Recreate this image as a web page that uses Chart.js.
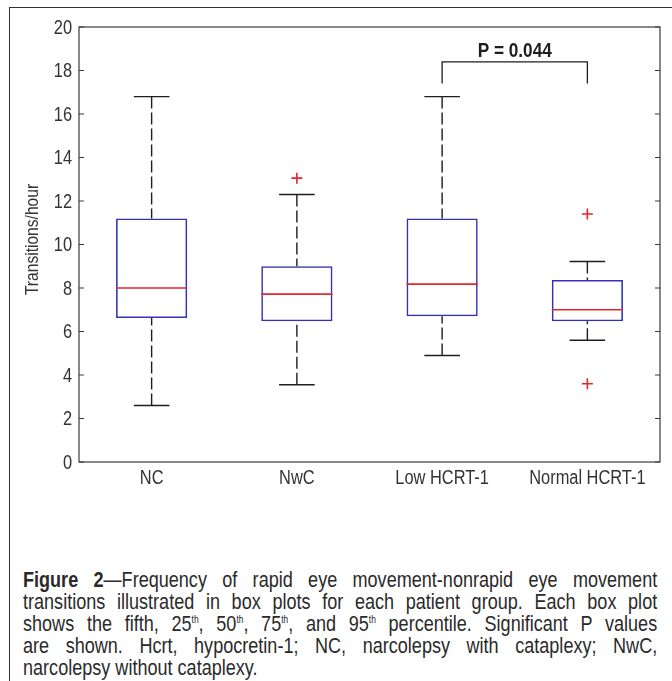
<!DOCTYPE html>
<html>
<head>
<meta charset="utf-8">
<script src="https://cdn.jsdelivr.net/npm/chart.js@4.4.1/dist/chart.umd.min.js"></script>
<style>
  html, body { margin: 0; padding: 0; background: #fff; }
  body { width: 672px; height: 681px; position: relative; overflow: hidden; }
  #frame { position: absolute; left: 9px; top: 7px; width: 700px; height: 700px;
           border-left: 1.5px solid #333; border-top: 1.5px solid #333; }
  #wrap { position: absolute; left: 0; top: 0; width: 672px; height: 540px; }
  #caption { position: absolute; left: 23px; top: 569px; width: 755px;
             transform: scaleX(0.84); transform-origin: 0 0;
             font-family: "Liberation Sans", Arial, sans-serif; font-size: 21.5px;
             line-height: 22px; color: #2a2a2a; }
  #caption .ln { text-align: justify; text-align-last: justify; white-space: nowrap; }
  #caption .ln.last { text-align-last: left; }
  #caption sup { font-size: 10px; vertical-align: 8px; line-height: 0; }
</style>
</head>
<body>
<div id="frame"></div>
<div id="wrap"><canvas id="c" width="672" height="540"></canvas></div>
<div id="caption">
  <div class="ln"><b>Figure 2</b>—Frequency of rapid eye movement-nonrapid eye movement</div>
  <div class="ln">transitions illustrated in box plots for each patient group. Each box plot</div>
  <div class="ln">shows the fifth, 25<sup>th</sup>, 50<sup>th</sup>, 75<sup>th</sup>, and 95<sup>th</sup> percentile. Significant P values</div>
  <div class="ln">are shown. Hcrt, hypocretin-1; NC, narcolepsy with cataplexy; NwC,</div>
  <div class="ln last">narcolepsy without cataplexy.</div>
</div>
<script>
// ---- data ----
const categories   = ["NC", "NwC", "Low HCRT-1", "Normal HCRT-1"];
const whiskerLow   = [2.6, 3.55, 4.9, 5.6];
const q1           = [6.62, 6.47, 6.7, 6.47];
const median       = [8.0, 7.72, 8.18, 7.0];
const q3           = [11.2, 9.0, 11.2, 8.37];
const whiskerHigh  = [16.8, 12.3, 16.8, 9.22];
const outlierGroup = ["NwC", "Normal HCRT-1", "Normal HCRT-1"];
const outlierValue = [13.05, 11.4, 3.6];
const yTicks       = [0, 2, 4, 6, 8, 10, 12, 14, 16, 18, 20];
const yTitle       = "Transitions/hour";
const pPair        = ["Low HCRT-1", "Normal HCRT-1"];
const pBarValue    = 18.4;
const pLegEnd      = 17.4;
const pLabel       = "P = 0.044";

const FONT = "'Liberation Sans', Arial, sans-serif";
const NARROW = 0.82;
const AXIS = "#3a3a3a";
const BOX = "#3232b4";
const RED = "#e3262c";

function narrowText(ctx, text, x, y, rot) {
  ctx.save();
  ctx.translate(x, y);
  if (rot) ctx.rotate(rot);
  ctx.scale(NARROW, 1);
  ctx.fillText(text, 0, 0);
  ctx.restore();
}

const boxPlugin = {
  id: 'boxExtras',
  afterDatasetsDraw(chart) {
    const ctx = chart.ctx;
    const xs = chart.scales.x, ys = chart.scales.y;
    const a = chart.chartArea;
    const meta = chart.getDatasetMeta(0);
    ctx.save();
    categories.forEach((c, i) => {
      const cx = xs.getPixelForValue(i);
      const bw = meta.data[i].width;
      const cap = bw / 4;
      const yHi = ys.getPixelForValue(whiskerHigh[i]);
      const yQ3 = ys.getPixelForValue(q3[i]);
      const yQ1 = ys.getPixelForValue(q1[i]);
      const yLo = ys.getPixelForValue(whiskerLow[i]);
      ctx.strokeStyle = "#1e1e1e";
      ctx.lineWidth = 1.4;
      ctx.setLineDash([12, 4]);
      ctx.beginPath(); ctx.moveTo(cx, yHi); ctx.lineTo(cx, yQ3); ctx.stroke();
      ctx.beginPath(); ctx.moveTo(cx, yLo); ctx.lineTo(cx, yQ1); ctx.stroke();
      ctx.setLineDash([]);
      ctx.beginPath(); ctx.moveTo(cx - cap, yHi); ctx.lineTo(cx + cap, yHi); ctx.stroke();
      ctx.beginPath(); ctx.moveTo(cx - cap, yLo); ctx.lineTo(cx + cap, yLo); ctx.stroke();
      const ym = ys.getPixelForValue(median[i]);
      ctx.strokeStyle = RED;
      ctx.lineWidth = 1.6;
      ctx.beginPath(); ctx.moveTo(cx - bw / 2, ym); ctx.lineTo(cx + bw / 2, ym); ctx.stroke();
    });
    // frame + inward ticks
    ctx.strokeStyle = AXIS;
    ctx.lineWidth = 1.2;
    ctx.strokeRect(a.left, a.top, a.right - a.left, a.bottom - a.top);
    yTicks.forEach(v => {
      const y = ys.getPixelForValue(v);
      ctx.beginPath();
      ctx.moveTo(a.left, y); ctx.lineTo(a.left + 5, y);
      ctx.moveTo(a.right, y); ctx.lineTo(a.right - 5, y);
      ctx.stroke();
    });
    // tick labels (condensed)
    ctx.fillStyle = "#333";
    ctx.font = "20px " + FONT;
    ctx.textAlign = "right";
    ctx.textBaseline = "middle";
    yTicks.forEach(v => narrowText(ctx, String(v), a.left - 7, ys.getPixelForValue(v) + 1));
    ctx.font = "20px " + FONT;
    ctx.textAlign = "center";
    categories.forEach((c, i) => narrowText(ctx, c, xs.getPixelForValue(i), a.bottom + 16));
    ctx.font = "19px " + FONT;
    narrowText(ctx, yTitle, 33, (a.top + a.bottom) / 2 - 5, -Math.PI / 2);
    // significance bracket
    const x1 = xs.getPixelForValue(categories.indexOf(pPair[0]));
    const x2 = xs.getPixelForValue(categories.indexOf(pPair[1]));
    const yb = ys.getPixelForValue(pBarValue);
    const yl = ys.getPixelForValue(pLegEnd);
    ctx.strokeStyle = "#1e1e1e";
    ctx.lineWidth = 1.3;
    ctx.beginPath();
    ctx.moveTo(x1, yl); ctx.lineTo(x1, yb); ctx.lineTo(x2, yb); ctx.lineTo(x2, yl);
    ctx.stroke();
    ctx.fillStyle = "#1e1e1e";
    ctx.font = "bold 21px " + FONT;
    ctx.textAlign = "center";
    ctx.textBaseline = "alphabetic";
    narrowText(ctx, pLabel, (x1 + x2) / 2, yb - 5);
    ctx.restore();
  }
};

new Chart(document.getElementById('c'), {
  type: 'bar',
  data: {
    labels: categories,
    datasets: [
      {
        type: 'bar',
        data: categories.map((c, i) => [q1[i], q3[i]]),
        backgroundColor: 'rgba(0,0,0,0)',
        borderColor: BOX,
        borderWidth: 1.6,
        borderSkipped: false,
        barPercentage: 0.49,
        categoryPercentage: 1.0
      },
      {
        type: 'line',
        showLine: false,
        data: outlierGroup.map((g, i) => ({ x: g, y: outlierValue[i] })),
        pointStyle: 'cross',
        pointRadius: 5.5,
        pointBorderWidth: 1.6,
        borderColor: RED,
        backgroundColor: RED
      }
    ]
  },
  options: {
    responsive: false,
    animation: false,
    events: [],
    layout: { padding: { left: 0, right: 12, top: 27, bottom: 38 } },
    plugins: { legend: { display: false }, tooltip: { enabled: false } },
    scales: {
      x: {
        type: 'category',
        grid: { display: false, drawTicks: false },
        border: { display: false },
        ticks: { display: false },
        afterFit: s => { s.height = 40; }
      },
      y: {
        min: 0, max: 20,
        afterBuildTicks: s => { s.ticks = yTicks.map(v => ({ value: v })); },
        grid: { display: false, drawTicks: false },
        border: { display: false },
        ticks: { display: false },
        afterFit: s => { s.width = 79; }
      }
    }
  },
  plugins: [boxPlugin]
});
</script>
</body>
</html>
